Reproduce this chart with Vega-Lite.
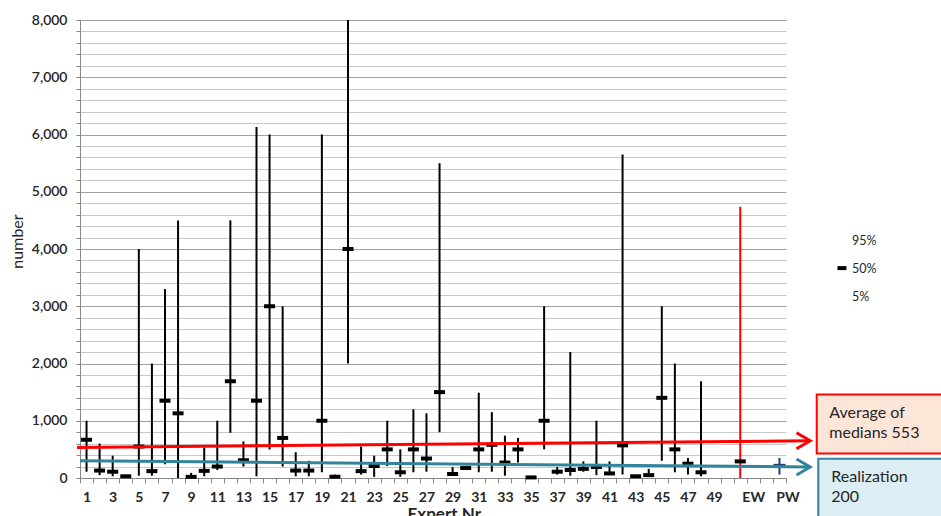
{
  "$schema": "https://vega.github.io/schema/vega-lite/v6.json",
  "width": 706,
  "height": 458,
  "autosize": {"type": "none"},
  "padding": {"left": 80, "top": 20, "right": 155, "bottom": 38},
  "background": "#ffffff",
  "config": {
    "font": "Lato",
    "view": {"stroke": null},
    "tick": {"opacity": 1},
    "axis": {"labelColor": "#262626", "titleColor": "#262626"}
  },
  "datasets": {
    "experts": [
      {"slot": "1", "grp": "expert", "p5": 110, "p50": 670, "p95": 1000},
      {"slot": "2", "grp": "expert", "p5": 50, "p50": 130, "p95": 600},
      {"slot": "3", "grp": "expert", "p5": 30, "p50": 110, "p95": 390},
      {"slot": "4", "grp": "expert", "p5": 10, "p50": 30, "p95": 40},
      {"slot": "5", "grp": "expert", "p5": 40, "p50": 550, "p95": 4000},
      {"slot": "6", "grp": "expert", "p5": 40, "p50": 120, "p95": 2000},
      {"slot": "7", "grp": "expert", "p5": 240, "p50": 1350, "p95": 3300},
      {"slot": "8", "grp": "expert", "p5": 0, "p50": 1130, "p95": 4500},
      {"slot": "9", "grp": "expert", "p5": 10, "p50": 20, "p95": 90},
      {"slot": "10", "grp": "expert", "p5": 30, "p50": 125, "p95": 530},
      {"slot": "11", "grp": "expert", "p5": 140, "p50": 200, "p95": 1000},
      {"slot": "12", "grp": "expert", "p5": 790, "p50": 1690, "p95": 4500},
      {"slot": "13", "grp": "expert", "p5": 200, "p50": 310, "p95": 640},
      {"slot": "14", "grp": "expert", "p5": 30, "p50": 1350, "p95": 6130},
      {"slot": "15", "grp": "expert", "p5": 500, "p50": 3000, "p95": 6000},
      {"slot": "16", "grp": "expert", "p5": 200, "p50": 700, "p95": 3000},
      {"slot": "17", "grp": "expert", "p5": 30, "p50": 130, "p95": 450},
      {"slot": "18", "grp": "expert", "p5": 30, "p50": 130, "p95": 300},
      {"slot": "19", "grp": "expert", "p5": 100, "p50": 1000, "p95": 6000},
      {"slot": "20", "grp": "expert", "p5": 10, "p50": 20, "p95": 60},
      {"slot": "21", "grp": "expert", "p5": 2000, "p50": 4000, "p95": 8000},
      {"slot": "22", "grp": "expert", "p5": 60, "p50": 120, "p95": 550},
      {"slot": "23", "grp": "expert", "p5": 20, "p50": 210, "p95": 390},
      {"slot": "24", "grp": "expert", "p5": 210, "p50": 500, "p95": 1000},
      {"slot": "25", "grp": "expert", "p5": 20, "p50": 100, "p95": 500},
      {"slot": "26", "grp": "expert", "p5": 100, "p50": 500, "p95": 1200},
      {"slot": "27", "grp": "expert", "p5": 110, "p50": 340, "p95": 1130},
      {"slot": "28", "grp": "expert", "p5": 800, "p50": 1500, "p95": 5500},
      {"slot": "29", "grp": "expert", "p5": 60, "p50": 70, "p95": 190},
      {"slot": "30", "grp": "expert", "p5": 170, "p50": 175, "p95": 180},
      {"slot": "31", "grp": "expert", "p5": 100, "p50": 500, "p95": 1490},
      {"slot": "32", "grp": "expert", "p5": 110, "p50": 580, "p95": 1150},
      {"slot": "33", "grp": "expert", "p5": 40, "p50": 270, "p95": 740},
      {"slot": "34", "grp": "expert", "p5": 270, "p50": 500, "p95": 700},
      {"slot": "35", "grp": "expert", "p5": 5, "p50": 10, "p95": 15},
      {"slot": "36", "grp": "expert", "p5": 500, "p50": 1000, "p95": 3000},
      {"slot": "37", "grp": "expert", "p5": 60, "p50": 110, "p95": 190},
      {"slot": "38", "grp": "expert", "p5": 40, "p50": 140, "p95": 2200},
      {"slot": "39", "grp": "expert", "p5": 110, "p50": 160, "p95": 290},
      {"slot": "40", "grp": "expert", "p5": 50, "p50": 190, "p95": 1000},
      {"slot": "41", "grp": "expert", "p5": 50, "p50": 80, "p95": 290},
      {"slot": "42", "grp": "expert", "p5": 60, "p50": 570, "p95": 5650},
      {"slot": "43", "grp": "expert", "p5": 20, "p50": 30, "p95": 40},
      {"slot": "44", "grp": "expert", "p5": 20, "p50": 50, "p95": 160},
      {"slot": "45", "grp": "expert", "p5": 300, "p50": 1400, "p95": 3000},
      {"slot": "46", "grp": "expert", "p5": 100, "p50": 500, "p95": 2000},
      {"slot": "47", "grp": "expert", "p5": 60, "p50": 250, "p95": 350},
      {"slot": "48", "grp": "expert", "p5": 30, "p50": 100, "p95": 1690},
      {"slot": "EW", "grp": "EW", "p5": 0, "p50": 290, "p95": 4740},
      {"slot": "PW", "grp": "PW", "p5": 60, "p50": 230, "p95": 350}
    ],
    "arrows": [
      {"ann": "avg", "u": -0.23, "v": 534},
      {"ann": "avg", "u": 55.85, "v": 651},
      {"ann": "real", "u": 0.0, "v": 302},
      {"ann": "real", "u": 55.85, "v": 192}
    ],
    "tips": [
      {"ann": "avg", "u": 55.85, "v": 651},
      {"ann": "real", "u": 55.85, "v": 192}
    ],
    "boxes": [
      {"ann": "avg", "u1": 56.35, "u2": 67, "v1": 427, "v2": 1457},
      {"ann": "real", "u1": 56.47, "u2": 67, "v1": -900, "v2": 337}
    ],
    "boxtext": [
      {"txt": "Average of", "u": 57.31, "v": 1053},
      {"txt": "medians 553", "u": 57.31, "v": 704},
      {"txt": "Realization", "u": 57.46, "v": -77},
      {"txt": "200", "u": 57.46, "v": -426}
    ],
    "legend": [
      {"txt": "95%", "u": 59.04, "v": 4073},
      {"txt": "50%", "u": 59.04, "v": 3584},
      {"txt": "5%", "u": 59.04, "v": 3096}
    ],
    "legendmark": [
      {"u": 58.28, "v": 3666}
    ]
  },
  "resolve": {"scale": {"x": "independent"}, "axis": {"x": "independent", "y": "independent"}},
  "layer": [
    {
      "data": {"name": "experts"},
      "resolve": {"axis": {"y": "independent"}},
      "encoding": {
        "x": {
          "field": "slot",
          "type": "nominal",
          "sort": null,
          "scale": {
            "type": "band",
            "domain": ["1","2","3","4","5","6","7","8","9","10","11","12","13","14","15","16","17","18","19","20","21","22","23","24","25","26","27","28","29","30","31","32","33","34","35","36","37","38","39","40","41","42","43","44","45","46","47","48","49","b50","EW","b52","b53","PW"],
            "paddingInner": 0,
            "paddingOuter": 0
          },
          "axis": {
            "title": "Expert Nr",
            "titleFontSize": 17,
            "titleFontWeight": "bold",
            "titleBaseline": "top",
            "titleAnchor": "start",
            "titleX": 327,
            "titleY": 28,
            "labelAngle": 0,
            "labelFontSize": 14,
            "labelFontWeight": "bold",
            "labelPadding": 7,
            "labelExpr": "(datum.value === 'EW' || datum.value === 'PW') ? datum.value : (test(/^b/, datum.value) ? '' : (toNumber(datum.value) % 2 === 1 ? datum.value : ''))",
            "labelOffset": {"condition": [{"test": "datum.value === 'EW'", "value": 13}, {"test": "datum.value === 'PW'", "value": 8}], "value": 0},
            "tickBand": "extent",
            "tickSize": 5,
            "tickColor": "#868686",
            "domainColor": "#868686",
            "grid": false
          }
        }
      },
      "layer": [
        {
          "mark": {"type": "rule", "strokeWidth": 2},
          "encoding": {
            "y": {
              "field": "p5",
              "type": "quantitative",
              "scale": {"domain": [0, 8000], "nice": false, "zero": true},
              "axis": {
                "title": "number",
                "titleFontSize": 16,
                "titleFontWeight": "normal",
                "titleAngle": 270,
                "titleBaseline": "middle",
                "titleAlign": "center",
                "titleX": -63,
                "titleY": 221,
                "labelOverlap": false,
                "values": [0,200,400,600,800,1000,1200,1400,1600,1800,2000,2200,2400,2600,2800,3000,3200,3400,3600,3800,4000,4200,4400,4600,4800,5000,5200,5400,5600,5800,6000,6200,6400,6600,6800,7000,7200,7400,7600,7800,8000],
                "labelExpr": "datum.value % 1000 === 0 ? format(datum.value, ',') : ''",
                "labelFontSize": 14,
                "labelFontWeight": 600,
                "labelPadding": 9,
                "tickSize": 4,
                "tickColor": "#868686",
                "domainColor": "#868686",
                "grid": true,
                "gridWidth": 1,
                "gridColor": {"condition": {"test": "datum.value % 1000 === 0", "value": "#a0a0a0"}, "value": "#c8c8c8"}
              }
            },
            "y2": {"field": "p95"},
            "color": {
              "field": "grp",
              "type": "nominal",
              "scale": {"domain": ["expert", "EW", "PW"], "range": ["#000000", "#ff0000", "#1f3a6e"]},
              "legend": null
            }
          }
        },
        {
          "transform": [{"filter": "datum.grp !== 'PW'"}],
          "mark": {"type": "tick", "thickness": 4, "size": 11, "color": "#000000", "opacity": 1},
          "encoding": {
            "y": {"field": "p50", "type": "quantitative", "axis": null}
          }
        },
        {
          "transform": [{"filter": "datum.grp === 'PW'"}],
          "mark": {"type": "tick", "thickness": 2, "size": 12, "color": "#1f3a6e", "opacity": 1},
          "encoding": {
            "y": {"field": "p50", "type": "quantitative", "axis": null}
          }
        }
      ]
    },
    {
      "layer": [
        {
          "data": {"name": "boxes"},
          "mark": {"type": "rect", "strokeWidth": 2},
          "encoding": {
            "x": {"field": "u1", "type": "quantitative", "scale": {"domain": [0, 54], "nice": false, "zero": false}, "axis": null},
            "x2": {"field": "u2"},
            "y": {"field": "v1", "type": "quantitative", "scale": {"domain": [0, 8000], "nice": false}, "axis": null},
            "y2": {"field": "v2"},
            "fill": {"field": "ann", "type": "nominal", "scale": {"domain": ["avg", "real"], "range": ["#fde6d8", "#dbeef4"]}, "legend": null},
            "stroke": {"field": "ann", "type": "nominal", "scale": {"domain": ["avg", "real"], "range": ["#ff0000", "#31849b"]}, "legend": null}
          }
        },
        {
          "data": {"name": "arrows"},
          "mark": {"type": "line", "strokeWidth": 3},
          "encoding": {
            "x": {"field": "u", "type": "quantitative", "axis": null},
            "y": {"field": "v", "type": "quantitative", "axis": null},
            "detail": {"field": "ann"},
            "stroke": {"field": "ann", "type": "nominal", "legend": null}
          }
        },
        {
          "data": {"name": "tips"},
          "mark": {"type": "point", "filled": false, "shape": "M-1.7,-1L0,0L-1.7,1", "size": 260, "strokeWidth": 3, "opacity": 1},
          "encoding": {
            "x": {"field": "u", "type": "quantitative", "axis": null},
            "y": {"field": "v", "type": "quantitative", "axis": null},
            "stroke": {"field": "ann", "type": "nominal", "legend": null}
          }
        },
        {
          "data": {"name": "boxtext"},
          "mark": {"type": "text", "align": "left", "baseline": "alphabetic", "fontSize": 16, "color": "#262626"},
          "encoding": {
            "x": {"field": "u", "type": "quantitative", "axis": null},
            "y": {"field": "v", "type": "quantitative", "axis": null},
            "text": {"field": "txt"}
          }
        },
        {
          "data": {"name": "legend"},
          "mark": {"type": "text", "align": "left", "baseline": "alphabetic", "fontSize": 12.5, "color": "#262626"},
          "encoding": {
            "x": {"field": "u", "type": "quantitative", "axis": null},
            "y": {"field": "v", "type": "quantitative", "axis": null},
            "text": {"field": "txt"}
          }
        },
        {
          "data": {"name": "legendmark"},
          "mark": {"type": "tick", "orient": "horizontal", "thickness": 4, "size": 9, "color": "#000000", "opacity": 1},
          "encoding": {
            "x": {"field": "u", "type": "quantitative", "axis": null},
            "y": {"field": "v", "type": "quantitative", "axis": null}
          }
        }
      ]
    }
  ]
}
